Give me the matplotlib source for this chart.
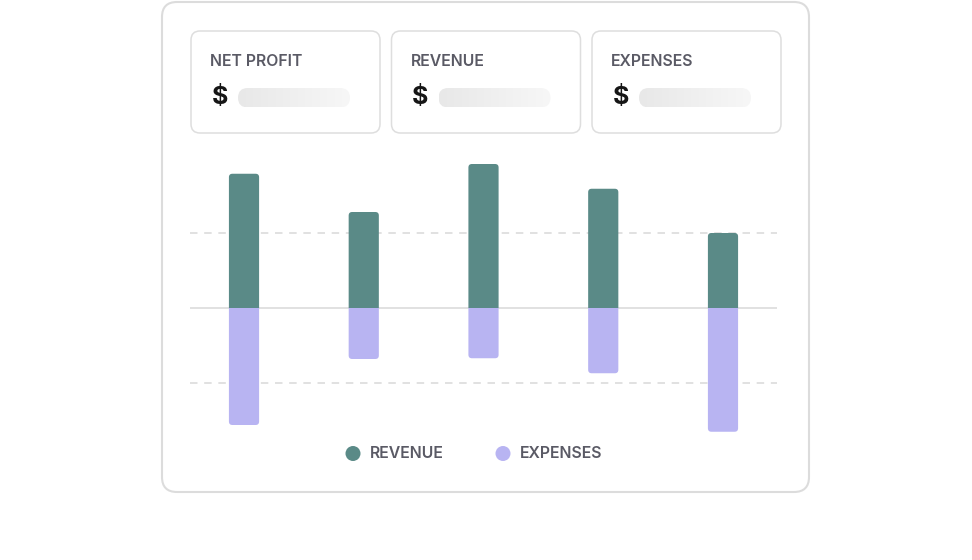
import numpy as np
import matplotlib
matplotlib.use('Agg')
import matplotlib.pyplot as plt
from matplotlib import font_manager as fm
from matplotlib.patches import FancyBboxPatch, Circle, PathPatch
from matplotlib.path import Path
from matplotlib.colors import LinearSegmentedColormap

# data
months = ['M1', 'M2', 'M3', 'M4', 'M5']
revenue = [179, 128, 192, 159, 100]
expenses = [156, 68, 67, 87, 165]
grid_levels = [-100, 100]
card_titles = ['NET PROFIT', 'REVENUE', 'EXPENSES']
legend_labels = ['REVENUE', 'EXPENSES']

teal = '#5a8a87'
lilac = '#b8b4f2'
label_grey = '#5a5a65'


def inter(file_name, size):
    for f in fm.fontManager.ttflist:
        if f.fname.endswith(file_name):
            return fm.FontProperties(fname=f.fname, size=size)
    return fm.FontProperties(family='DejaVu Sans', weight='bold', size=size)


title_font = inter('Inter-SemiBold.otf', 11.4)
dollar_font = inter('Inter-Bold.otf', 18)
legend_font = inter('Inter-SemiBold.otf', 11.4)

W, H = 972, 560
fig = plt.figure(figsize=(W / 100, H / 100), dpi=100)

# background layer in pixel coords (y down)
bg = fig.add_axes([0, 0, 1, 1])
bg.set_xlim(0, W)
bg.set_ylim(H, 0)
bg.axis('off')

# outer card
bg.add_patch(FancyBboxPatch((162, 2), 647, 490,
                            boxstyle='round,pad=0,rounding_size=15',
                            fc='white', ec='#dcdcdc', lw=1.5))

# stat cards
grad = np.linspace(0, 1, 200).reshape(1, -1)
pill_cmap = LinearSegmentedColormap.from_list('pill', ['#e8e8e8', '#f7f7f7'])
for i, title in enumerate(card_titles):
    cx = 191 + i * 200.5
    bg.add_patch(FancyBboxPatch((cx, 31), 189, 102,
                                boxstyle='round,pad=0,rounding_size=9',
                                fc='white', ec='#dedede', lw=1.1))
    bg.text(cx + 19, 61.5, title, fontproperties=title_font,
            color=label_grey, va='center', ha='left')
    bg.text(cx + 20.5, 98, '$', fontproperties=dollar_font,
            color='#161616', va='center', ha='left')
    pill = FancyBboxPatch((cx + 47, 88), 112, 19.5,
                          boxstyle='round,pad=0,rounding_size=9.75',
                          fc='none', ec='none')
    bg.add_patch(pill)
    im = bg.imshow(grad, cmap=pill_cmap, extent=(cx + 47, cx + 159, 107.5, 88),
                   aspect='auto', zorder=2)
    im.set_clip_path(pill)

# legend
for j, (lab, col) in enumerate(zip(legend_labels, [teal, lilac])):
    lx = 353 + j * 150
    bg.add_patch(Circle((lx, 453.5), 7.5, fc=col, ec='none'))
    bg.text(lx + 17, 454, lab, fontproperties=legend_font,
            color=label_grey, va='center', ha='left')

# chart
px_per_unit_y = 0.75
y_zero = 308
top_px, bot_px = 150, 440
ax = fig.add_axes([190 / W, 1 - bot_px / H, 587 / W, (bot_px - top_px) / H])
ax.patch.set_alpha(0)
ax.set_ylim(-(bot_px - y_zero) / px_per_unit_y, (y_zero - top_px) / px_per_unit_y)
ax.set_xlim(-0.451, len(months) - 1 + 0.451)
ax.axis('off')

for g in grid_levels:
    ax.axhline(g, color='#dcdcdc', lw=1.2, dashes=(4.5, 4), zorder=1)
ax.axhline(0, color='#dedede', lw=1.3, zorder=1)

x = np.arange(len(months))
bw = 0.252
rev_bars = ax.bar(x, revenue, bw, color=teal, zorder=2)
exp_bars = ax.bar(x, [-e for e in expenses], bw, color=lilac, zorder=2)

# round the outer ends of the bars (corner radius ~3.5 px)
x_unit_px = 587 / (ax.get_xlim()[1] - ax.get_xlim()[0])
rx = 3.5 / x_unit_px
ry = 3.5 / px_per_unit_y


def rounded_end(x0, x1, base, end):
    s = 1 if end >= base else -1
    verts = [(x0, base), (x0, end - s * ry), (x0, end), (x0 + rx, end),
             (x1 - rx, end), (x1, end), (x1, end - s * ry), (x1, base), (x0, base)]
    codes = [Path.MOVETO, Path.LINETO, Path.CURVE3, Path.CURVE3,
             Path.LINETO, Path.CURVE3, Path.CURVE3, Path.LINETO, Path.CLOSEPOLY]
    return Path(verts, codes)


for bar in list(rev_bars) + list(exp_bars):
    bx, by = bar.get_xy()
    path = rounded_end(bx, bx + bar.get_width(), by, by + bar.get_height())
    ax.add_patch(PathPatch(path, fc=bar.get_facecolor(), ec='none', zorder=2))
    bar.set_visible(False)

fig.savefig('out.png', dpi=100)
